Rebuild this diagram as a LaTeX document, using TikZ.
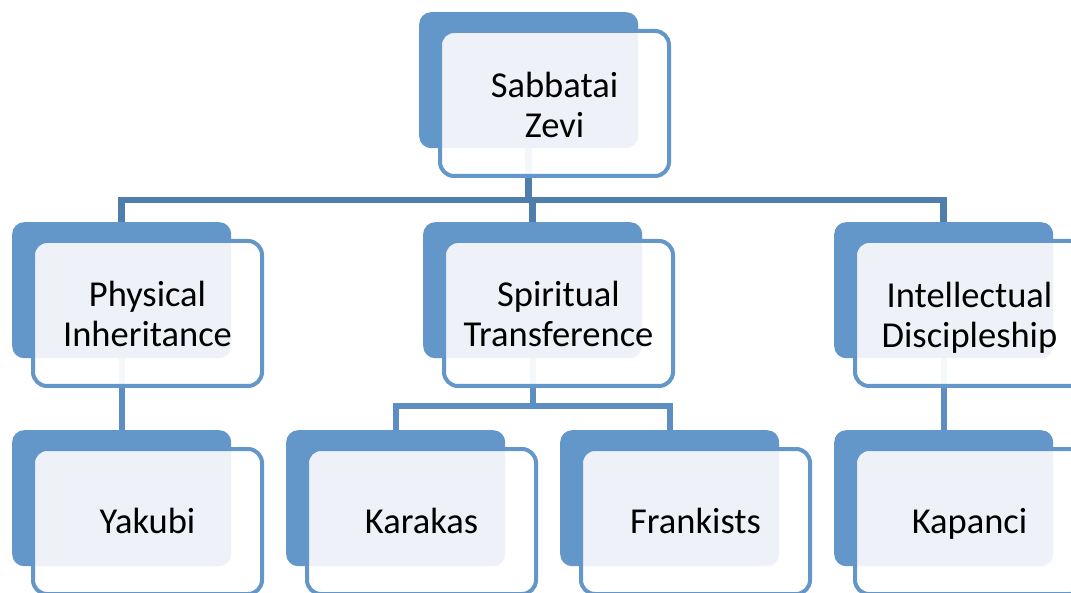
\documentclass[tikz,border=0pt]{standalone}
\usepackage{fontspec}
\setmainfont{Carlito}
\usetikzlibrary{backgrounds}
\definecolor{backblue}{RGB}{99,150,201}
\definecolor{lightfill}{RGB}{238,242,248}
\definecolor{busdark}{RGB}{79,125,172}
\definecolor{buslight}{RGB}{92,142,196}
\tikzset{
  backbox/.style={rectangle, rounded corners=12pt, fill=backblue, draw=none,
    minimum width=219pt, minimum height=136pt, inner sep=0pt, anchor=north west},
  frontborder/.style={draw=backblue, line width=4pt, rounded corners=14pt},
  cardtext/.style={align=center, inner sep=0pt, text=black,
    font=\fontsize{36.5}{40}\selectfont},
  oneline/.style={text height=25pt, text depth=0pt},
  connA/.style={draw=busdark, line width=6.5pt},
  connB/.style={draw=buslight, line width=6pt}
}
% name, x, y, text, text y offset, extra options
\newcommand\mycard[6]{%
  \node[backbox] (b#1) at (#2,#3) {};
  \path[fill=white, fill opacity=0.94, rounded corners=14pt] (#2+21,#3+19) rectangle ++(229,145);
  \begin{scope}
    \clip[rounded corners=14pt] (#2+21,#3+19) rectangle ++(229,145);
    \fill[lightfill, rounded corners=12pt] (#2,#3) rectangle ++(219,136);
  \end{scope}
  \draw[frontborder] (#2+21,#3+19) rectangle ++(229,145);
  \node[cardtext,#6] (#1) at (#2+135.5,#3+#5) {#4};
}
\begin{document}
\begin{tikzpicture}[x=1pt,y=-1pt]
\useasboundingbox (0,0) rectangle (1071,593);
\mycard{Top}{419}{12}{Sabbatai\\Zevi}{93}{}
\mycard{Phys}{12}{222}{Physical\\Inheritance}{92}{}
\mycard{Spir}{423}{222}{Spiritual\\Transference}{92}{}
\mycard{Int}{834}{222}{Intellectual\\Discipleship}{96}{}
\mycard{Yak}{12}{430}{Yakubi}{90.5}{oneline}
\mycard{Kar}{286}{430}{Karakas}{90.5}{oneline}
\mycard{Fra}{560}{430}{Frankists}{90.5}{oneline}
\mycard{Kap}{834}{430}{Kapanci}{90.5}{oneline}
\coordinate (busone) at (0,200);
\coordinate (bustwo) at (0,406);
\begin{pgfonlayer}{background}
  \fill[white] (0,0) rectangle (1071,593);
  \draw[connA] (bPhys.north) -- (bPhys.north |- busone) -- (bInt.north |- busone) -- (bInt.north);
  \draw[connA] (bTop.south) -- (bTop.south |- busone);
  \draw[connA] (bSpir.north) -- (bSpir.north |- busone);
  \draw[connB] (bKar.north) -- (bKar.north |- bustwo) -- (bFra.north |- bustwo) -- (bFra.north);
  \draw[connB] (bSpir.south) -- (bSpir.south |- bustwo);
  \draw[connB] (bPhys.south) -- (bYak.north);
  \draw[connB] (bInt.south) -- (bKap.north);
\end{pgfonlayer}
\end{tikzpicture}
\end{document}
